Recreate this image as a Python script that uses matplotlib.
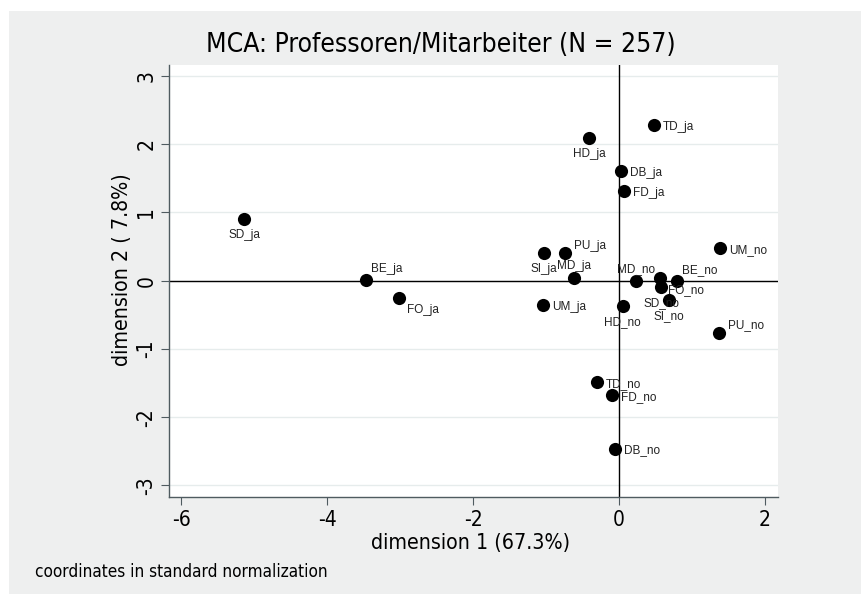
import numpy as np
import matplotlib

matplotlib.use("Agg")
import matplotlib.pyplot as plt
from matplotlib.patches import Rectangle

# MCA coordinates (standard normalization)
labels = [
    "SD_ja", "BE_ja", "FO_ja", "HD_ja", "TD_ja", "DB_ja", "FD_ja", "PU_ja",
    "SI_ja", "MD_ja", "UM_ja",
    "MD_no", "FO_no", "BE_no", "SD_no", "SI_no", "HD_no", "UM_no", "PU_no",
    "TD_no", "FD_no", "DB_no",
]
dim1 = [
    -5.14, -3.47, -3.02, -0.41, 0.48, 0.03, 0.07, -0.74,
    -1.03, -0.62, -1.04,
    0.23, 0.56, 0.80, 0.58, 0.69, 0.05, 1.39, 1.37,
    -0.30, -0.10, -0.05,
]
dim2 = [
    0.91, 0.01, -0.25, 2.09, 2.28, 1.60, 1.32, 0.40,
    0.41, 0.04, -0.35,
    -0.01, 0.04, -0.01, -0.10, -0.28, -0.37, 0.48, -0.76,
    -1.48, -1.68, -2.46,
]
# label position, Stata-style clock codes
label_pos = [
    6, 1, 4, 6, 3, 3, 3, 2,
    6, 12, 3,
    12, 4, 1, 6, 6, 6, 3, 2,
    3, 3, 3,
]
xticks = [-6, -4, -2, 0, 2]
yticks = [-3, -2, -1, 0, 1, 2, 3]

BG = "#eeefef"
SPINE = "#4f5b60"
plt.rcParams["axes.unicode_minus"] = False
NARROW = dict(family="DejaVu Sans", stretch="condensed")

# pixel offsets (dx, dy up) and alignment for each clock position
OFFSETS = {
    3: ((9, -2), "left", "center"),
    6: ((0, -16), "center", "center"),
    12: ((0, 12), "center", "center"),
    1: ((5, 11), "left", "center"),
    2: ((9, 7), "left", "center"),
    4: ((8, -12), "left", "center"),
}

fig = plt.figure(figsize=(8.61, 5.94), dpi=100, facecolor="white")
fig.patches.append(Rectangle((9 / 861, 0), 1, 1 - 11 / 594, transform=fig.transFigure,
                             facecolor=BG, edgecolor="none", zorder=-10))

ax = fig.add_axes([169 / 861, 1 - 497 / 594, (778 - 169) / 861, (497 - 65) / 594])
ax.set_facecolor("white")
ax.set_xlim(-6.17, 2.18)
ax.set_ylim(-3.17, 3.16)

for s in ("top", "right"):
    ax.spines[s].set_visible(False)
for s in ("left", "bottom"):
    ax.spines[s].set_color(SPINE)
    ax.spines[s].set_linewidth(1.0)

ax.set_xticks(xticks)
ax.set_yticks(yticks)
ax.tick_params(axis="both", direction="out", length=6, width=0.8, color=SPINE,
               labelsize=15, pad=3)
for t in ax.get_xticklabels():
    t.set(**NARROW)
for t in ax.get_yticklabels():
    t.set(**NARROW)
    t.set_rotation(90)
    t.set_va("center")
ax.grid(axis="y", color="#e6ecec", linewidth=1.0)
ax.set_axisbelow(True)

ax.axhline(0, color="black", lw=1.0, zorder=1)
ax.axvline(0, color="black", lw=1.0, zorder=1)

ax.scatter(dim1, dim2, s=90, color="black", zorder=3, linewidths=0)
for lab, x, y, pos in zip(labels, dim1, dim2, label_pos):
    (dx, dy), ha, va = OFFSETS[pos]
    ax.annotate(lab, (x, y), xytext=(dx, dy), textcoords="offset pixels",
                ha=ha, va=va, fontsize=8.5, family="Liberation Sans", color="#222222")

fig.text(441 / 861, 1 - 45 / 594, "MCA: Professoren/Mitarbeiter (N = 257)",
         ha="center", va="center", fontsize=19, **NARROW)
fig.text(471 / 861, 1 - 543 / 594, "dimension 1 (67.3%)",
         ha="center", va="center", fontsize=15.3, **NARROW)
fig.text(122 / 861, 1 - 270 / 594, "dimension 2 ( 7.8%)", rotation=90,
         ha="center", va="center", fontsize=15.3, **NARROW)
fig.text(35 / 861, 1 - 572 / 594, "coordinates in standard normalization",
         ha="left", va="center", fontsize=12.3, **NARROW)

fig.savefig("out.png", dpi=100, facecolor=fig.get_facecolor())
